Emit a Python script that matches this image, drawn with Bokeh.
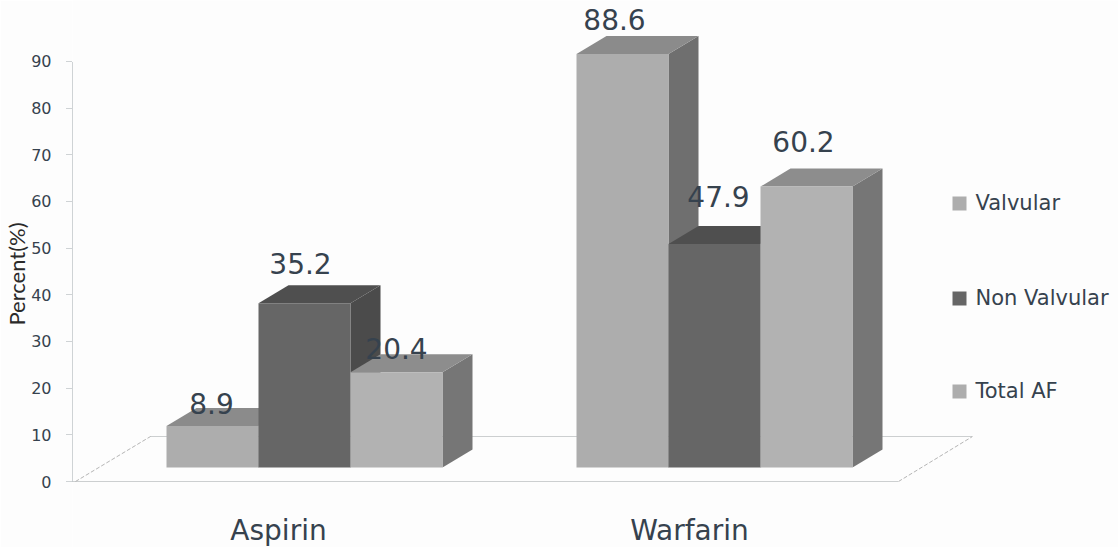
from bokeh.plotting import figure
from bokeh.models import Range1d, FixedTicker
from bokeh.core.properties import value
from bokeh.embed import file_html
from bokeh.resources import INLINE

categories = ["Aspirin", "Warfarin"]
series_names = ["Valvular", "Non Valvular", "Total AF"]
valvular = [8.9, 88.6]
non_valvular = [35.2, 47.9]
total_af = [20.4, 60.2]
y_ticks = [0, 10, 20, 30, 40, 50, 60, 70, 80, 90]

W, H = 1118, 547
PX_PER_UNIT = 4.667
ZERO_PY = 481
def vy(py):
    return (ZERO_PY - py) / PX_PER_UNIT

FONT = "DejaVu Sans"
INK = "#36424e"
front = ["#adadad", "#666666", "#b2b2b2"]
top_c = ["#8b8b8b", "#4f4f4f", "#8d8d8d"]
side_c = ["#6f6f6f", "#4b4b4b", "#767676"]
group_left = [166, 576]
BAR_W = 92
DX = 30
DY = 18 / PX_PER_UNIT
BASE = 14 / PX_PER_UNIT

p = figure(width=W, height=H, output_backend="svg", toolbar_location=None,
           x_range=Range1d(72, W), y_range=Range1d(vy(H), vy(0)),
           min_border_left=0, min_border_right=0, min_border_top=0, min_border_bottom=0,
           x_axis_location=None, outline_line_color=None)
p.grid.visible = False
p.background_fill_color = "#fdfdfd"
p.border_fill_color = "#fdfdfd"

ax = p.yaxis[0]
ax.ticker = FixedTicker(ticks=y_ticks)
ax.bounds = (0, 90)
ax.axis_line_color = "#a0a8ad"
ax.axis_line_dash = "1 1"
ax.major_tick_line_color = "#a0a8ad"
ax.major_tick_line_dash = "1 1"
ax.major_tick_out = 6
ax.major_tick_in = 0
ax.minor_tick_line_color = None
ax.major_label_standoff = 15
ax.major_label_text_font = FONT
ax.major_label_text_font_size = "16px"
ax.major_label_text_color = INK
ax.axis_label = "Percent(%)"
ax.axis_label_text_font = "Lato"
ax.axis_label_text_font_style = "normal"
ax.axis_label_text_font_size = "22px"
ax.axis_label_text_color = "#2a2a2a"
ax.axis_label_standoff = -2

floor_back = vy(436)
p.segment([72, 150], [0, floor_back], [898, 972], [0, floor_back],
          line_color="#9aa0a3", line_dash="1 1", line_width=1)
p.segment([75, 898], [0, 0], [150, 972], [floor_back, floor_back],
          line_color="#b5b5b5", line_dash="4 2", line_width=1)

all_series = [valvular, non_valvular, total_af]
for g, left in enumerate(group_left):
    for s, vals in enumerate(all_series):
        x0 = left + s * BAR_W
        x1 = x0 + BAR_W
        t = BASE + vals[g]
        p.patch([x1, x1 + DX, x1 + DX, x1], [BASE, BASE + DY, t + DY, t], color=side_c[s], line_width=0)
        p.patch([x0, x0 + DX, x1 + DX, x1], [t, t + DY, t + DY, t], color=top_c[s], line_width=0)
        p.quad(left=[x0], right=[x1], bottom=[BASE], top=[t], color=front[s], line_width=0)

lab_dx = [[-1, -4, 0], [-8, 4, -3]]
lab_dy = [[22, 40, 24], [35, 47, 45]]
xs, ys, txt = [], [], []
for g, left in enumerate(group_left):
    for s, vals in enumerate(all_series):
        xs.append(left + (s + 0.5) * BAR_W + lab_dx[g][s])
        ys.append(BASE + vals[g] + lab_dy[g][s] / PX_PER_UNIT)
        txt.append(f"{vals[g]:.1f}")
p.text(xs, ys, text=txt, text_font=value(FONT), text_font_size="28px", text_color=INK,
       text_align="center", text_baseline="middle")

p.text([278, 689], [vy(530)] * 2, text=categories, text_font=value(FONT), text_font_size="28px",
       text_color=INK, text_align="center", text_baseline="middle")

leg_y = [203, 298, 391]
p.scatter([959] * 3, [vy(y) for y in leg_y], marker="square", size=14,
          color=["#adadad", "#666666", "#adadad"], line_width=0)
p.text([975] * 3, [vy(y - 1) for y in leg_y], text=series_names, text_font=value(FONT), text_font_size="21px",
       text_color=INK, text_align="left", text_baseline="middle")

open("out.html", "w").write(file_html(p, INLINE))
